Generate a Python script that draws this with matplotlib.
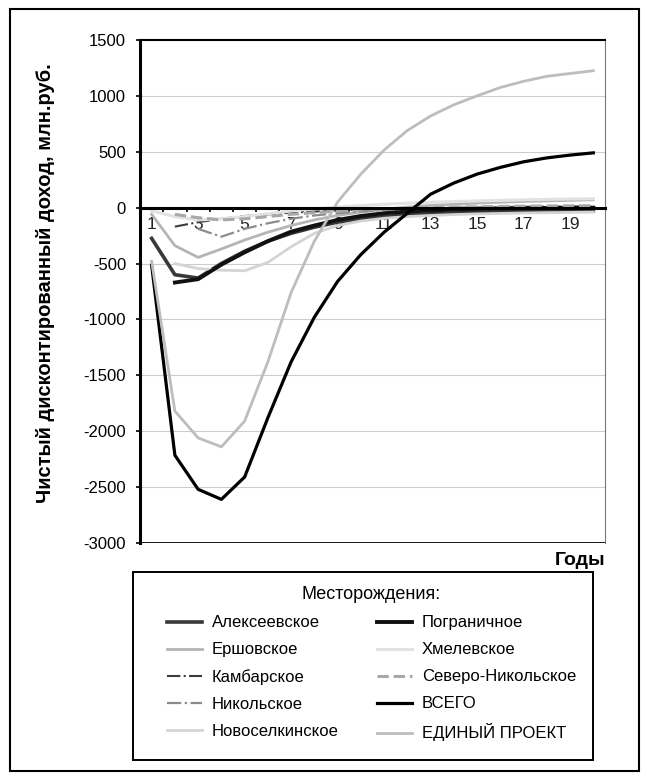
import numpy as np
import matplotlib
matplotlib.use("Agg")
import matplotlib.pyplot as plt
from matplotlib.patches import Rectangle

plt.rcParams['font.family'] = ['Liberation Sans', 'DejaVu Sans']
plt.rcParams['axes.unicode_minus'] = False

nan = np.nan
years = list(range(1, 21))
tick_years = [1, 3, 5, 7, 9, 11, 13, 15, 17, 19]

alekseevskoe = [-275, -600, -630, -500, -390, -300, -230, -175, -130, -100, -80, -65, -55, -48, -42, -38, -35, -32, -30, -28]
ershovskoe = [-60, -340, -445, -370, -290, -220, -160, -110, -70, -40, -15, 5, 20, 30, 40, 48, 55, 60, 65, 70]
kambarskoe = [nan, -170, -130, -100, -75, -60, -45, -35, -25, -18, -12, -8, -5, -3, -2, -1, 0, 0, 0, 0]
nikolskoe = [nan, nan, -190, -260, -190, -140, -100, -70, -50, -35, -22, -12, -5, 0, 4, 7, 9, 11, 12, 13]
novoselkinskoe = [nan, -500, -545, -560, -565, -490, -350, -230, -160, -120, -95, -80, -70, -62, -56, -52, -48, -45, -43, -40]
pogranichnoe = [nan, -670, -640, -510, -400, -300, -215, -160, -110, -75, -50, -35, -25, -18, -12, -8, -5, -3, -2, 0]
khmelevskoe = [-30, -80, -110, -100, -80, -55, -30, -10, 5, 18, 30, 40, 48, 55, 60, 65, 70, 74, 77, 80]
severo_nikolskoe = [nan, -60, -90, -110, -100, -80, -60, -45, -30, -20, -12, -6, 0, 5, 8, 11, 13, 15, 16, 17]
vsego = [-515, -2215, -2520, -2610, -2410, -1880, -1380, -980, -660, -420, -220, -50, 120, 220, 300, 360, 410, 445, 470, 490]
edinyi = [-480, -1820, -2060, -2140, -1910, -1380, -760, -300, 50, 300, 515, 690, 820, 920, 1000, 1075, 1130, 1175, 1200, 1225]

series = [
    ("Алексеевское", alekseevskoe, dict(color='#383838', lw=2.6, ls='-')),
    ("Ершовское", ershovskoe, dict(color='#b5b5b5', lw=2.0, ls='-')),
    ("Камбарское", kambarskoe, dict(color='#3c3c3c', lw=1.5, ls='-.')),
    ("Никольское", nikolskoe, dict(color='#8c8c8c', lw=1.6, ls='-.')),
    ("Новоселкинское", novoselkinskoe, dict(color='#d4d4d4', lw=2.0, ls='-')),
    ("Пограничное", pogranichnoe, dict(color='#111111', lw=2.8, ls='-')),
    ("Хмелевское", khmelevskoe, dict(color='#e2e2e2', lw=2.2, ls='-')),
    ("Северо-Никольское", severo_nikolskoe, dict(color='#a8a8a8', lw=2.2, ls='--')),
    ("ВСЕГО", vsego, dict(color='#000000', lw=2.3, ls='-')),
    ("ЕДИНЫЙ ПРОЕКТ", edinyi, dict(color='#bdbdbd', lw=2.0, ls='-')),
]

fig = plt.figure(figsize=(6.47, 7.76), dpi=100)
ax = fig.add_axes([0.2164, 0.3003, 0.7186, 0.6482])

for y in range(-3000, 1501, 500):
    ax.axhline(y, color='#cccccc', lw=0.8, zorder=0)

handles = []
for name, vals, st in series:
    ln, = ax.plot(years, vals, label=name, solid_joinstyle='round', zorder=3, **st)
    handles.append(ln)

ax.set_xlim(0.5, 20.5)
ax.set_ylim(-3000, 1500)
ax.set_yticks(range(-3000, 1501, 500))
ax.tick_params(axis='y', labelsize=12, length=3, width=1.2, direction='out', pad=7)

# category axis crossing at zero
ax.spines['bottom'].set_position(('data', 0))
ax.spines['bottom'].set_linewidth(2.2)
ax.spines['bottom'].set_zorder(4)
ax.set_xticks(tick_years)
ax.set_xticklabels([str(t) for t in tick_years])
ax.set_xticks(np.arange(1.5, 20.5, 1.0), minor=True)
ax.tick_params(axis='x', which='major', length=0, labelsize=12.5, pad=7, labelcolor='#222222')
ax.tick_params(axis='x', which='minor', length=3, width=1.2, direction='out')
ax.axhline(-3000, color='black', lw=2.0, zorder=4)
ax.spines['left'].set_linewidth(2.2)
ax.spines['top'].set_linewidth(1.5)
ax.spines['right'].set_linewidth(0.8)
ax.spines['right'].set_color('#777777')

ax.set_ylabel("Чистый дисконтированный доход, млн.руб.", fontsize=14.5, fontweight='bold')
ax.yaxis.set_label_coords(-0.182, 0.517)
fig.text(0.935, 0.278, "Годы", ha='right', va='center', fontsize=14, fontweight='bold')

# legend box
fig.patches.append(Rectangle((0.2056, 0.0206), 0.711, 0.2423, transform=fig.transFigure,
                             fill=False, edgecolor='black', lw=1.4))
leg = fig.legend(handles, [s[0] for s in series],
                 ncol=2, loc='center', bbox_to_anchor=(0.574, 0.1445),
                 title="Месторождения:", title_fontsize=13, fontsize=12,
                 frameon=False,
                 handlelength=2.1, handletextpad=0.6, columnspacing=2.3, labelspacing=0.72,
                 borderpad=0.3)

fig.patches.append(Rectangle((0.016, 0.007), 0.972, 0.982, transform=fig.transFigure,
                             fill=False, edgecolor='black', lw=1.5))

fig.savefig("out.png", dpi=100)
